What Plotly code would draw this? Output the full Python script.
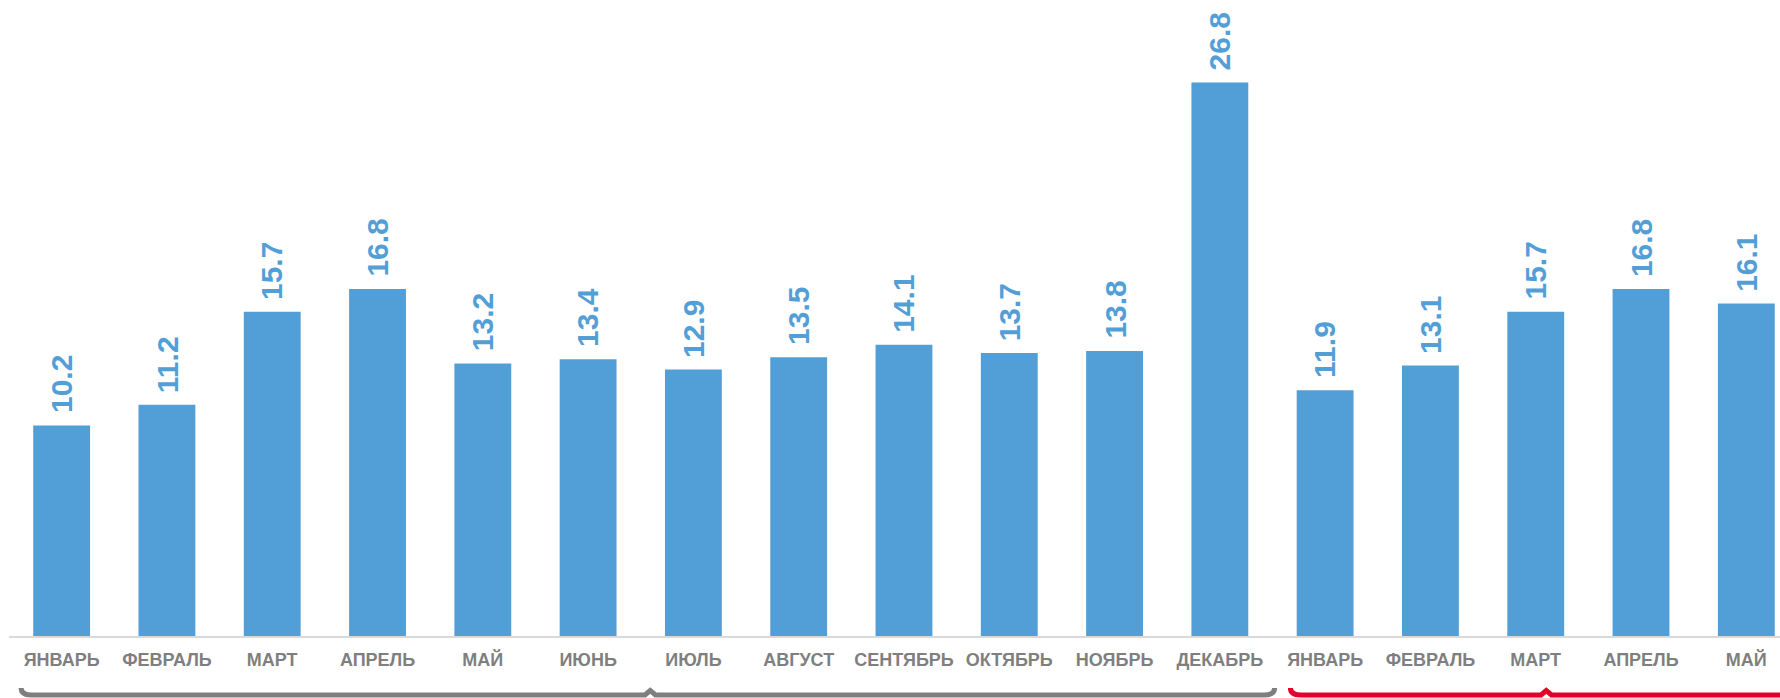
import plotly.graph_objects as go

months = ["ЯНВАРЬ", "ФЕВРАЛЬ", "МАРТ", "АПРЕЛЬ", "МАЙ", "ИЮНЬ", "ИЮЛЬ", "АВГУСТ",
          "СЕНТЯБРЬ", "ОКТЯБРЬ", "НОЯБРЬ", "ДЕКАБРЬ",
          "ЯНВАРЬ", "ФЕВРАЛЬ", "МАРТ", "АПРЕЛЬ", "МАЙ"]
values = [10.2, 11.2, 15.7, 16.8, 13.2, 13.4, 12.9, 13.5, 14.1, 13.7, 13.8, 26.8,
          11.9, 13.1, 15.7, 16.8, 16.1]
positions = list(range(len(months)))

BLUE = "#529FD8"
GRAY = "#7F7F7F"
RED = "#E2002B"

fig = go.Figure()

fig.add_trace(
    go.Bar(
        x=positions,
        y=values,
        marker=dict(color=BLUE, line=dict(width=0)),
        hoverinfo="skip",
    )
)

# value labels, rotated, above each bar
for xi, v in zip(positions, values):
    fig.add_annotation(
        x=xi,
        y=v,
        text=f"<b>{v:.1f}</b>",
        textangle=-90,
        showarrow=False,
        xanchor="center",
        yanchor="bottom",
        yshift=10,
        font=dict(family="Liberation Sans, Arial", size=30, color=BLUE),
    )


def brace(x0, x1, xc, color):
    y_line = -0.0928
    y_end = -0.0818
    y_tip = y_line + 0.007
    path = (
        f"M {x0},{y_end} Q {x0},{y_line} {x0 + 0.1},{y_line} "
        f"L {xc - 0.05},{y_line} L {xc},{y_tip} L {xc + 0.05},{y_line} "
        f"L {x1 - 0.1},{y_line} Q {x1},{y_line} {x1},{y_end}"
    )
    return dict(
        type="path",
        xref="x",
        yref="paper",
        path=path,
        line=dict(color=color, width=5),
        layer="above",
    )


fig.update_layout(
    width=1780,
    height=698,
    paper_bgcolor="white",
    plot_bgcolor="white",
    margin=dict(l=9, r=0, t=0, b=62),
    bargap=0.46,
    showlegend=False,
    hovermode=False,
    shapes=[
        brace(-0.385, 11.52, 5.59, GRAY),
        brace(11.67, 16.9, 14.1, RED),
    ],
)

fig.update_xaxes(
    range=[-0.5, 16.32],
    tickmode="array",
    tickvals=positions,
    ticktext=[f"<b>{m}</b>" for m in months],
    tickfont=dict(family="Liberation Sans, Arial", size=18, color=GRAY),
    ticklabelstandoff=6,
    showline=True,
    linecolor="#D9D9D9",
    linewidth=2,
    showgrid=False,
    zeroline=False,
    ticks="",
    ticklen=0,
    automargin=False,
)
fig.update_yaxes(
    range=[0, 30.8],
    visible=False,
    showgrid=False,
    zeroline=False,
)

# the page body has a default 8px margin; drop it so the chart sits at 0,0
fig.write_html(
    "out.html",
    config={"displayModeBar": False},
    post_script="document.body.style.margin='0';",
)
